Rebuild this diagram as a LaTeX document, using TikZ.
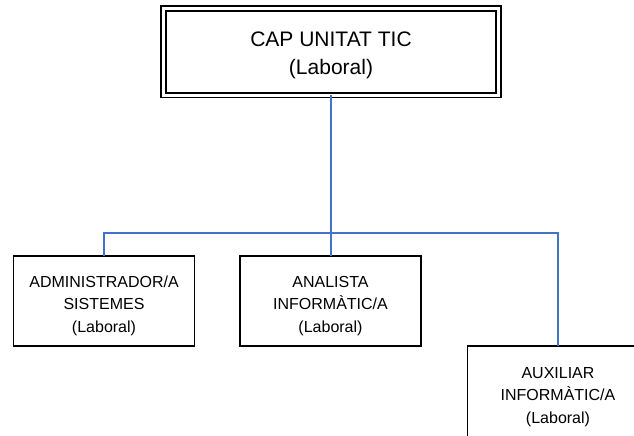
\documentclass[tikz,border=0pt]{standalone}
\usepackage{fontspec}
\setmainfont{Liberation Sans}
\usetikzlibrary{positioning}

\begin{document}
\begin{tikzpicture}
[x=1pt,y=-1pt,
 every node/.style={draw=black,line width=1.3pt,inner sep=0mm,outer sep=0mm,align=center},
 chief/.style={double,double distance=3pt,line width=1.6pt,minimum width=335pt,minimum height=86.5pt,
   font=\fontsize{21}{28.5}\selectfont},
 post/.style={minimum width=181pt,minimum height=90pt,font=\fontsize{16}{22.5}\selectfont},
 link/.style={draw=linkblue,line width=1.4pt}]
\useasboundingbox (0,0) rectangle (634,436);
\definecolor{linkblue}{RGB}{68,114,196}
\node[chief] (cap)  at (331,51.75)  {\rule{0pt}{22pt}CAP UNITAT TIC\\(Laboral)};
\node[post]  (adm)  at (104,301)    {\rule{0pt}{21pt}ADMINISTRADOR/A\\SISTEMES\\(Laboral)};
\node[post]  (ana)  at (330.5,301)  {\rule{0pt}{21pt}ANALISTA\\INFORMÀTIC/A\\(Laboral)};
\node[post,minimum height=92pt] (aux) at (558,392) {\rule{0pt}{21pt}AUXILIAR\\INFORMÀTIC/A\\(Laboral)};
\coordinate (bus) at (331,233);
\path[link] (cap.south) -- (bus);
\path[link] (bus) -| (adm.north);
\path[link] (bus) -| (aux.north);
\path[link] (bus) -- (ana.north -| bus);
\end{tikzpicture}
\end{document}
